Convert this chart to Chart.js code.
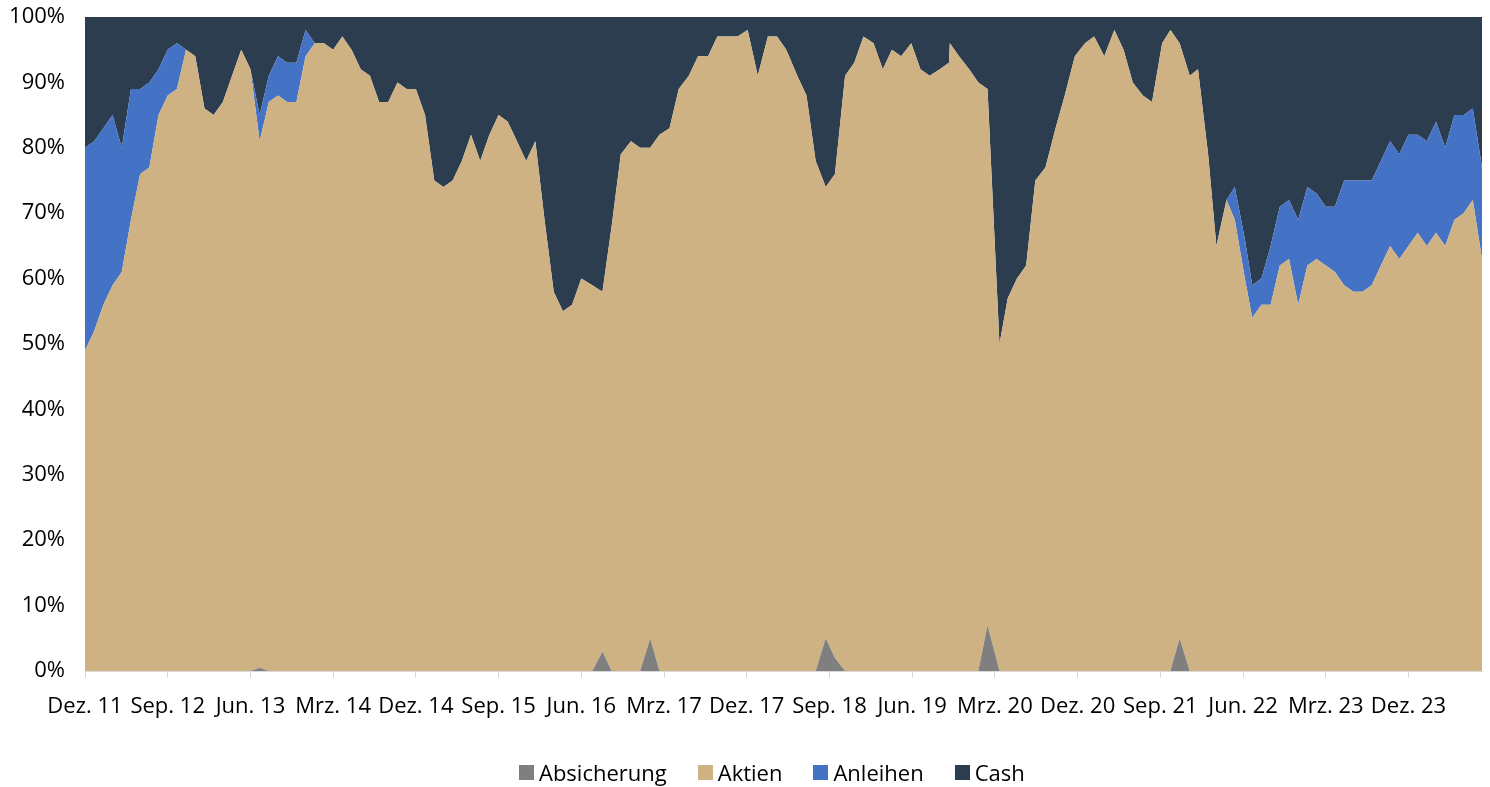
<!DOCTYPE html>
<html lang="de">
<head>
<meta charset="utf-8">
<title>Allokation</title>
<script src="https://cdn.jsdelivr.net/npm/chart.js@4.4.1/dist/chart.umd.min.js"></script>
<style>
  html, body { margin: 0; padding: 0; background: #fff; }
  #wrap { position: relative; width: 1490px; height: 787px; }
  #legend {
    position: absolute; left: 519px; top: 760px; display: flex; align-items: center;
    font-family: 'Segoe UI', 'Open Sans', sans-serif; font-size: 22px; line-height: 24px; color: #000;
  }
  #legend .item { display: flex; align-items: center; margin-right: 31px; }
  #legend .box  { width: 15px; height: 15px; margin-right: 5px; }
</style>
</head>
<body>
<div id="wrap">
  <canvas id="chart"></canvas>
  <div id="legend"></div>
</div>
<script>
// ─── Daten ────────────────────────────────────────────────────────────────
// Monate seit Dez. 11 (Datenpunkte liegen nicht immer genau im Monatsraster)
const monat = [
  0, 1, 2, 3, 4, 5, 6, 7, 8, 9,
  10, 11, 12, 13, 14, 15, 16, 17, 18, 19,
  20, 21, 22, 23, 24, 25, 26, 27, 28, 29,
  30, 31, 32, 33, 34, 35, 36, 37, 38, 39,
  40, 41, 42, 43, 44, 45, 46, 47, 48, 49,
  50, 51, 52, 53, 54, 55.2, 56.3, 57.3, 58.3, 59.4,
  60.4, 61.5, 62.5, 63.6, 64.6, 65.7, 66.7, 67.8, 68.8, 69.9,
  71.0, 72.1, 73.2, 74.3, 75.3, 76.3, 77.5, 78.5, 79.5, 80.6,
  81.6, 82.7, 83.7, 84.7, 85.8, 86.8, 87.8, 88.8, 89.9, 90.9,
  91.9, 93.0, 94.0, 94.1, 95.1, 96.2, 97.2, 98.2, 99.5, 100.4,
  101.4, 102.4, 103.4, 104.5, 105.6, 106.6, 107.7, 108.8, 109.8, 110.9,
  112.0, 113.0, 114.0, 115.1, 116.1, 117.2, 118.1, 119.1, 120.2, 121.1,
  122.2, 123.1, 124.2, 125.1, 126.2, 127, 128, 129, 130, 131,
  132, 133, 134, 135, 136, 137, 138, 139, 140, 141,
  142, 143, 144, 145, 146, 147, 148, 149, 150, 151,
  152,
];

const absicherung = [
  0, 0, 0, 0, 0, 0, 0, 0, 0, 0,
  0, 0, 0, 0, 0, 0, 0, 0, 0, 0.5,
  0, 0, 0, 0, 0, 0, 0, 0, 0, 0,
  0, 0, 0, 0, 0, 0, 0, 0, 0, 0,
  0, 0, 0, 0, 0, 0, 0, 0, 0, 0,
  0, 0, 0, 0, 0, 0, 3, 0, 0, 0,
  0, 5, 0, 0, 0, 0, 0, 0, 0, 0,
  0, 0, 0, 0, 0, 0, 0, 0, 0, 5,
  2, 0, 0, 0, 0, 0, 0, 0, 0, 0,
  0, 0, 0, 0, 0, 0, 0, 7, 0, 0,
  0, 0, 0, 0, 0, 0, 0, 0, 0, 0,
  0, 0, 0, 0, 0, 0, 0, 5, 0, 0,
  0, 0, 0, 0, 0, 0, 0, 0, 0, 0,
  0, 0, 0, 0, 0, 0, 0, 0, 0, 0,
  0, 0, 0, 0, 0, 0, 0, 0, 0, 0,
  0,
];

const aktien = [
  49, 52, 56, 59, 61, 69, 76, 77, 85, 88,
  89, 95, 94, 86, 85, 87, 91, 95, 92, 80.5,
  87, 88, 87, 87, 94, 96, 96, 95, 97, 95,
  92, 91, 87, 87, 90, 89, 89, 85, 75, 74,
  75, 78, 82, 78, 82, 85, 84, 81, 78, 81,
  69, 58, 55, 56, 60, 59, 55, 68, 79, 81,
  80, 75, 82, 83, 89, 91, 94, 94, 97, 97,
  97, 98, 91, 97, 97, 95, 91, 88, 78, 69,
  74, 91, 93, 97, 96, 92, 95, 94, 96, 92,
  91, 92, 93, 96, 94, 92, 90, 82, 50, 57,
  60, 62, 75, 77, 83, 88, 94, 96, 97, 94,
  98, 95, 90, 88, 87, 96, 98, 91, 91, 92,
  79, 65, 72, 69, 60, 54, 56, 56, 62, 63,
  56, 62, 63, 62, 61, 59, 58, 58, 59, 62,
  65, 63, 65, 67, 65, 67, 65, 69, 70, 72,
  63,
];

const anleihen = [
  31, 29, 27, 26, 19, 20, 13, 13, 7, 7,
  7, 0, 0, 0, 0, 0, 0, 0, 0, 4,
  4, 6, 6, 6, 4, 0, 0, 0, 0, 0,
  0, 0, 0, 0, 0, 0, 0, 0, 0, 0,
  0, 0, 0, 0, 0, 0, 0, 0, 0, 0,
  0, 0, 0, 0, 0, 0, 0, 0, 0, 0,
  0, 0, 0, 0, 0, 0, 0, 0, 0, 0,
  0, 0, 0, 0, 0, 0, 0, 0, 0, 0,
  0, 0, 0, 0, 0, 0, 0, 0, 0, 0,
  0, 0, 0, 0, 0, 0, 0, 0, 0, 0,
  0, 0, 0, 0, 0, 0, 0, 0, 0, 0,
  0, 0, 0, 0, 0, 0, 0, 0, 0, 0,
  0, 0, 0, 5, 6, 5, 4, 9, 9, 9,
  13, 12, 10, 9, 10, 16, 17, 17, 16, 16,
  16, 16, 17, 15, 16, 17, 15, 16, 15, 14,
  14,
];

const cash = [
  20, 19, 17, 15, 20, 11, 11, 10, 8, 5,
  4, 5, 6, 14, 15, 13, 9, 5, 8, 15,
  9, 6, 7, 7, 2, 4, 4, 5, 3, 5,
  8, 9, 13, 13, 10, 11, 11, 15, 25, 26,
  25, 22, 18, 22, 18, 15, 16, 19, 22, 19,
  31, 42, 45, 44, 40, 41, 42, 32, 21, 19,
  20, 20, 18, 17, 11, 9, 6, 6, 3, 3,
  3, 2, 9, 3, 3, 5, 9, 12, 22, 26,
  24, 9, 7, 3, 4, 8, 5, 6, 4, 8,
  9, 8, 7, 4, 6, 8, 10, 11, 50, 43,
  40, 38, 25, 23, 17, 12, 6, 4, 3, 6,
  2, 5, 10, 12, 13, 4, 2, 4, 9, 8,
  21, 35, 28, 26, 34, 41, 40, 35, 29, 28,
  31, 26, 27, 29, 29, 25, 25, 25, 25, 22,
  19, 21, 18, 18, 19, 16, 20, 15, 15, 14,
  23,
];

// Achsenbeschriftung alle 9 Monate
const tickMonate = [0, 9, 18, 27, 36, 45, 54, 63, 72, 81, 90, 99, 108, 117, 126, 135, 144];
const tickLabels = ['Dez. 11', 'Sep. 12', 'Jun. 13', 'Mrz. 14', 'Dez. 14', 'Sep. 15', 'Jun. 16',
                    'Mrz. 17', 'Dez. 17', 'Sep. 18', 'Jun. 19', 'Mrz. 20', 'Dez. 20', 'Sep. 21',
                    'Jun. 22', 'Mrz. 23', 'Dez. 23'];

// ─── Farben ───────────────────────────────────────────────────────────────
const CC = {
  grau:  '#7F7F7F',
  tan:   '#CFB283',
  blau:  '#4472C4',
  navy:  '#2D3D50',
  achse: '#D9D9D9',
  text:  '#000000',
};

Chart.defaults.font.family = "'Segoe UI', 'Open Sans', sans-serif";
Chart.defaults.font.size   = 22;
Chart.defaults.color       = CC.text;

function areaDS(label, values, color, fill) {
  return {
    label,
    data: monat.map((m, i) => ({ x: m, y: values[i] })),
    backgroundColor: color,
    borderColor: color,
    borderWidth: 0,
    pointRadius: 0,
    tension: 0,
    fill,
  };
}

const chart = new Chart(document.getElementById('chart'), {
  type: 'line',
  data: {
    datasets: [
      areaDS('Absicherung', absicherung, CC.grau, 'origin'),
      areaDS('Aktien',      aktien,      CC.tan,  '-1'),
      areaDS('Anleihen',    anleihen,    CC.blau, '-1'),
      areaDS('Cash',        cash,        CC.navy, '-1'),
    ],
  },
  options: {
    responsive: true,
    maintainAspectRatio: false,
    animation: false,
    layout: { padding: { left: 0, right: 8, top: 17, bottom: 0 } },
    plugins: {
      legend:  { display: false },
      tooltip: { enabled: false },
    },
    scales: {
      x: {
        type: 'linear',
        min: 0,
        max: 152,
        afterBuildTicks: scale => { scale.ticks = tickMonate.map(v => ({ value: v })); },
        afterFit: scale => { scale.height = 116; },
        grid:   { drawOnChartArea: false, drawTicks: true, tickLength: 7, color: CC.achse },
        border: { color: CC.achse, width: 1 },
        ticks:  {
          padding: 16,
          maxRotation: 0,
          autoSkip: false,
          callback: v => tickLabels[tickMonate.indexOf(v)] ?? '',
        },
      },
      y: {
        stacked: true,
        min: 0,
        max: 100,
        afterFit: scale => { scale.width = 85; },
        // unsichtbare Tick-Marken als Abstand zwischen Beschriftung und Fläche
        grid:   { drawOnChartArea: false, drawTicks: true, tickLength: 20, color: 'rgba(0,0,0,0)' },
        border: { display: false },
        ticks:  { stepSize: 10, padding: 0, callback: v => v + '%' },
      },
    },
  },
});

// HTML-Legende aus den Datensätzen
const legendEl = document.getElementById('legend');
chart.data.datasets.forEach(ds => {
  const item = document.createElement('div');
  item.className = 'item';
  const box = document.createElement('span');
  box.className = 'box';
  box.style.background = ds.backgroundColor;
  const txt = document.createElement('span');
  txt.textContent = ds.label;
  item.appendChild(box);
  item.appendChild(txt);
  legendEl.appendChild(item);
});
</script>
</body>
</html>
